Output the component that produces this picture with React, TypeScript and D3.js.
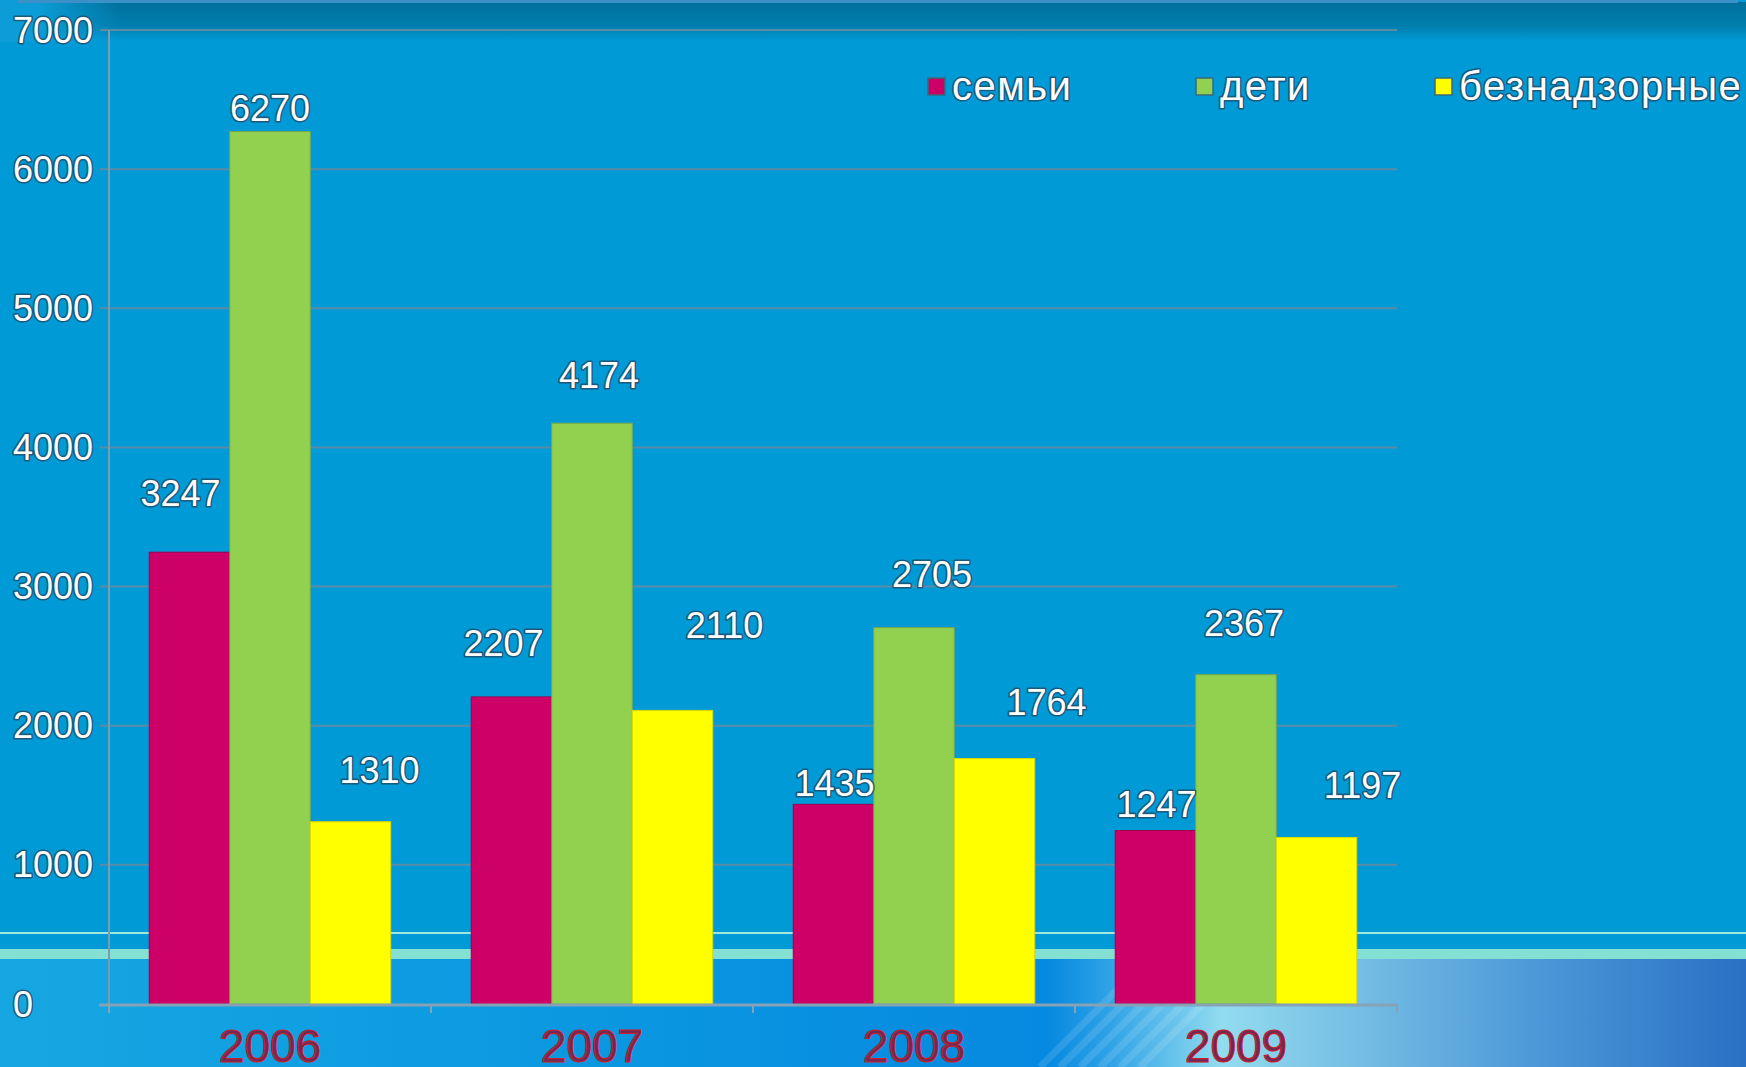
import { useEffect, useRef } from 'react'
import * as d3 from 'd3'

const years = ['2006', '2007', '2008', '2009']
const seriesNames = ['семьи', 'дети', 'безнадзорные']
const families = [3247, 2207, 1435, 1247]
const children = [6270, 4174, 2705, 2367]
const neglected = [1310, 2110, 1764, 1197]
const yTicks = [0, 1000, 2000, 3000, 4000, 5000, 6000, 7000]
const colors = ['#cc0066', '#92d050', '#ffff00']
const edges = ['#9a0050', '#78a848', '#d8d800']

// labels were dragged by hand on the slide: [dx, lift above bar top]
const labelNudge = [
  [[-9, 59], [0, 23], [29, 51]],
  [[-8, 53], [7, 48], [52, 85]],
  [[1, 21], [18, 53], [52, 56]],
  [[1, 26], [8, 51], [46, 52]],
]

const W = 1746
const H = 1067

export default function App() {
  const svgRef = useRef<SVGSVGElement>(null)

  useEffect(() => {
    if (!svgRef.current) return
    const svg = d3.select(svgRef.current)
    svg.selectAll('*').remove()

    const left = 109
    const right = 1397
    const top = 30
    const bottom = 1004

    const defs = svg.append('defs')

    const topGrad = defs.append('linearGradient').attr('id', 'topGrad')
      .attr('x1', 0).attr('y1', 0).attr('x2', 0).attr('y2', 1)
    topGrad.append('stop').attr('offset', 0).attr('stop-color', '#00709c')
    topGrad.append('stop').attr('offset', 0.6).attr('stop-color', '#007eae')
    topGrad.append('stop').attr('offset', 1).attr('stop-color', '#009bd7')

    const cornerGrad = defs.append('linearGradient').attr('id', 'cornerGrad')
    cornerGrad.append('stop').attr('offset', 0.3).attr('stop-color', '#0c9dd8').attr('stop-opacity', 1)
    cornerGrad.append('stop').attr('offset', 1).attr('stop-color', '#0c9dd8').attr('stop-opacity', 0)

    const bottomGrad = defs.append('linearGradient').attr('id', 'bottomGrad')
    const bottomStops: [number, string][] = [
      [0, '#16a7e2'], [0.35, '#0a97e0'], [0.6, '#0689e0'], [0.635, '#2ea2e6'],
      [0.7, '#92dcef'], [0.76, '#7cc4e6'], [0.88, '#4c98d8'], [1, '#2a70c4'],
    ]
    bottomStops.forEach(([o, c]) => {
      bottomGrad.append('stop').attr('offset', o).attr('stop-color', c)
    })

    // slide background
    svg.append('rect').attr('width', W).attr('height', H).attr('fill', '#009bd7')
    svg.append('rect').attr('y', 2).attr('width', W).attr('height', 40).attr('fill', 'url(#topGrad)')
    svg.append('rect').attr('width', 120).attr('height', 42).attr('fill', 'url(#cornerGrad)')
    svg.append('rect').attr('x', 18).attr('width', 1720).attr('height', 3).attr('fill', '#3c90c8')
    svg.append('rect').attr('y', 959).attr('width', W).attr('height', H - 959).attr('fill', 'url(#bottomGrad)')
    d3.range(6).forEach(i => {
      const x0 = 1040 + i * 20
      svg.append('line')
        .attr('x1', x0).attr('y1', H).attr('x2', x0 + 108).attr('y2', 959)
        .attr('stroke', '#ffffff').attr('stroke-opacity', 0.12).attr('stroke-width', 7)
    })
    svg.append('rect').attr('y', 932).attr('width', W).attr('height', 2).attr('fill', '#9fe6dc')
    svg.append('rect').attr('y', 949).attr('width', W).attr('height', 10).attr('fill', '#84e0d2')

    const y = d3.scaleLinear().domain([0, 7000]).range([bottom, top])
    const x0 = d3.scaleBand().domain(years).range([left, right]).paddingInner(0.25).paddingOuter(0.125)
    const x1 = d3.scaleBand().domain(seriesNames).range([0, x0.bandwidth()])

    const textStyle = (sel: d3.Selection<SVGTextElement, any, any, any>) =>
      sel.attr('font-family', '"Liberation Sans", Arial, sans-serif')
        .attr('fill', '#ffffff')
        .attr('stroke', '#1f4a66')
        .attr('stroke-opacity', 0.8)
        .attr('stroke-width', 3.2)
        .attr('stroke-linejoin', 'round')
        .attr('paint-order', 'stroke')

    // gridlines + y ticks
    const grid = svg.append('g')
    yTicks.filter(t => t > 0).forEach(t => {
      grid.append('line')
        .attr('x1', left - 9).attr('x2', right)
        .attr('y1', y(t)).attr('y2', y(t))
        .attr('stroke', '#5a8ca6').attr('stroke-width', 2)
    })
    grid.append('line')
      .attr('x1', left).attr('x2', left).attr('y1', top).attr('y2', bottom)
      .attr('stroke', '#7a9cb0').attr('stroke-width', 2)

    yTicks.forEach(t => {
      svg.append('text')
        .attr('x', 13).attr('y', y(t))
        .attr('dominant-baseline', 'central')
        .attr('font-size', 36)
        .text(t)
        .call(textStyle)
    })

    // bars
    const series = [families, children, neglected]
    years.forEach((yr, i) => {
      const g = svg.append('g').attr('transform', `translate(${x0(yr)},0)`)
      series.forEach((vals, s) => {
        const bx = x1(seriesNames[s])!
        g.append('rect')
          .attr('x', bx).attr('y', y(vals[i]))
          .attr('width', x1.bandwidth()).attr('height', bottom - y(vals[i]))
          .attr('fill', colors[s])
          .attr('stroke', edges[s]).attr('stroke-width', 1)
      })
    })

    // x axis
    svg.append('line')
      .attr('x1', left - 10).attr('x2', right).attr('y1', bottom + 1).attr('y2', bottom + 1)
      .attr('stroke', '#86a2b6').attr('stroke-width', 3)
    const bounds = years.map(yr => x0(yr)! - x0.step() * 0.125).concat([right])
    bounds.forEach(bx => {
      svg.append('line')
        .attr('x1', bx).attr('x2', bx).attr('y1', bottom).attr('y2', bottom + 9)
        .attr('stroke', '#86a2b6').attr('stroke-width', 2)
    })
    years.forEach(yr => {
      svg.append('text')
        .attr('x', x0(yr)! + x0.bandwidth() / 2).attr('y', 1062)
        .attr('text-anchor', 'middle')
        .attr('font-family', '"Liberation Sans", Arial, sans-serif')
        .attr('font-size', 46)
        .attr('fill', '#6e2a55')
        .attr('stroke', '#c4202e').attr('stroke-width', 1.2)
        .text(yr)
    })

    // data labels
    years.forEach((yr, i) => {
      series.forEach((vals, s) => {
        const [dx, lift] = labelNudge[i][s]
        const cx = x0(yr)! + x1(seriesNames[s])! + x1.bandwidth() / 2 + dx
        svg.append('text')
          .attr('x', cx).attr('y', y(vals[i]) - lift)
          .attr('text-anchor', 'middle')
          .attr('dominant-baseline', 'central')
          .attr('font-size', 36)
          .text(vals[i])
          .call(textStyle)
      })
    })

    // legend
    const legendX = [928, 1196, 1435]
    seriesNames.forEach((name, s) => {
      svg.append('rect')
        .attr('x', legendX[s]).attr('y', 78).attr('width', 17).attr('height', 17)
        .attr('fill', colors[s]).attr('stroke', '#3a6a7a').attr('stroke-width', 1.5)
      svg.append('text')
        .attr('x', legendX[s] + 24).attr('y', 100)
        .attr('font-size', 40)
        .attr('letter-spacing', 1.5)
        .text(name)
        .call(textStyle)
    })
  }, [])

  return (
    <svg
      ref={svgRef}
      width={W}
      height={H}
      style={{ position: 'fixed', left: 0, top: 0, display: 'block' }}
    />
  )
}
